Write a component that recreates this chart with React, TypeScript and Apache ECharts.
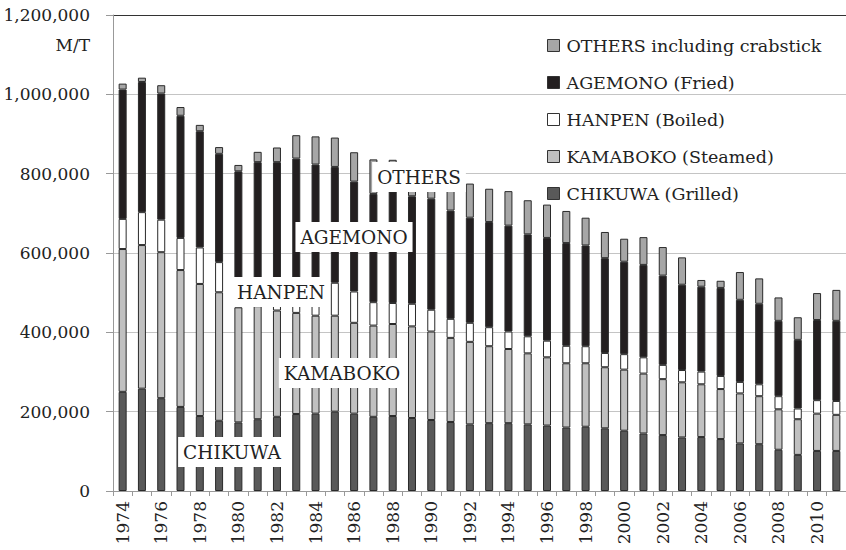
import React, { useEffect, useRef } from "react";
import * as echarts from "echarts";

const years = [
  "1974","1975","1976","1977","1978","1979","1980","1981","1982","1983",
  "1984","1985","1986","1987","1988","1989","1990","1991","1992","1993",
  "1994","1995","1996","1997","1998","1999","2000","2001","2002","2003",
  "2004","2005","2006","2007","2008","2009","2010","2011",
];

const chikuwa = [
  250000,258000,234000,212000,189000,177000,173000,181000,187000,194000,
  195000,200000,195000,187000,189000,184000,179000,174000,168000,171000,
  171000,168000,165000,160000,162000,158000,152000,145000,141000,135000,
  136000,131000,120000,118000,104000,91000,101000,101000,
];
const kamaboko = [
  360000,362000,368000,345000,333000,324000,290000,285000,268000,255000,
  247000,242000,229000,230000,232000,231000,223000,212000,208000,194000,
  187000,179000,172000,162000,160000,154000,154000,151000,141000,139000,
  133000,126000,126000,121000,102000,90000,94000,91000,
];
const hanpen = [
  76000,83000,82000,81000,92000,76000,67000,69000,80000,89000,
  88000,83000,79000,59000,53000,57000,55000,48000,48000,48000,
  44000,43000,42000,44000,43000,36000,39000,41000,36000,31000,
  32000,33000,29000,30000,33000,27000,34000,35000,
];
const agemono = [
  326000,328000,318000,308000,293000,273000,276000,294000,294000,300000,
  293000,292000,277000,273000,281000,271000,280000,273000,265000,265000,
  267000,257000,259000,259000,254000,239000,233000,233000,225000,215000,
  214000,222000,207000,203000,190000,173000,202000,202000,
];
const others = [
  15000,11000,21000,22000,16000,17000,16000,26000,37000,59000,
  71000,74000,74000,87000,80000,86000,92000,93000,86000,84000,
  87000,86000,84000,81000,70000,66000,58000,70000,72000,69000,
  17000,18000,70000,64000,59000,57000,68000,78000,
];

const yTicks = [0, 200000, 400000, 600000, 800000, 1000000, 1200000];

const seriesNames = [
  "CHIKUWA (Grilled)",
  "KAMABOKO (Steamed)",
  "HANPEN (Boiled)",
  "AGEMONO (Fried)",
  "OTHERS including crabstick",
];
const seriesData = [chikuwa, kamaboko, hanpen, agemono, others];
const seriesColors = ["#595959", "#c0c0c0", "#ffffff", "#231f20", "#a6a6a6"];

const annotations = [
  { text: "OTHERS", x: 419, y: 177 },
  { text: "AGEMONO", x: 354, y: 237 },
  { text: "HANPEN", x: 281, y: 292 },
  { text: "KAMABOKO", x: 342, y: 373 },
  { text: "CHIKUWA", x: 232, y: 452 },
];

const FONT = "DejaVu Serif";
const FS_AXIS = 17;
const FS_LEGEND = 17.5;
const FS_NOTE = 18.5;

export default function App() {
  const ref = useRef<HTMLDivElement>(null);

  useEffect(() => {
    if (!ref.current) return;
    const chart = echarts.init(ref.current, undefined, { renderer: "svg" });
    const fmt = (v: number) => v.toLocaleString("en-US");
    chart.setOption({
      animation: false,
      backgroundColor: "#ffffff",
      textStyle: { fontFamily: FONT },
      grid: { left: 113, right: -7, top: 15, bottom: 59, containLabel: false },
      legend: {
        left: 547,
        top: 34,
        padding: 0,
        orient: "vertical",
        icon: "rect",
        itemWidth: 12,
        itemHeight: 12,
        itemGap: 14,
        data: [...seriesNames].reverse(),
        textStyle: {
          fontFamily: FONT,
          fontSize: FS_LEGEND,
          color: "#222",
          lineHeight: 21,
          backgroundColor: "#ffffff",
          padding: [1, 2, 1, 2],
        },
        itemStyle: { borderColor: "#333", borderWidth: 1 },
      },
      xAxis: {
        type: "category",
        data: years,
        boundaryGap: true,
        axisLine: { lineStyle: { color: "#999", width: 1 } },
        axisTick: { show: true, length: 5, alignWithLabel: false, interval: 0, lineStyle: { color: "#999" } },
        axisLabel: {
          rotate: 90,
          interval: 1,
          margin: 10,
          fontFamily: FONT,
          fontSize: FS_AXIS,
          color: "#222",
        },
        splitLine: { show: false },
      },
      yAxis: {
        type: "value",
        min: yTicks[0],
        max: yTicks[yTicks.length - 1],
        interval: yTicks[1] - yTicks[0],
        axisLine: { show: true, lineStyle: { color: "#999", width: 1 } },
        axisTick: { show: true, length: 7, lineStyle: { color: "#999" } },
        axisLabel: {
          margin: 23,
          fontFamily: FONT,
          fontSize: FS_AXIS,
          color: "#222",
          formatter: (v: number) => fmt(v),
        },
        splitLine: {
          show: true,
          lineStyle: {
            color: ["#c4c4c4", "#c4c4c4", "#c4c4c4", "#c4c4c4", "#c4c4c4", "#c4c4c4", "#333333"],
            width: 1,
          },
        },
      },
      series: seriesNames.map((name, i) => ({
        name,
        type: "bar",
        stack: "total",
        data: seriesData[i],
        barWidth: 8,
        itemStyle: { color: seriesColors[i], borderColor: "#2a2a2a", borderWidth: 1 },
        emphasis: { disabled: true },
      })),
      graphic: [
        {
          type: "text",
          right: 756,
          top: 36,
          z: 100,
          style: { text: "M/T", fontFamily: FONT, fontSize: FS_AXIS, fill: "#222" },
        },
        ...annotations.map((a) => ({
          type: "text",
          x: a.x,
          y: a.y,
          z: 100,
          style: {
            text: a.text,
            fontFamily: FONT,
            fontSize: FS_NOTE,
            fill: "#222",
            align: "center",
            verticalAlign: "middle",
            backgroundColor: "#ffffff",
            padding: [6, 5, 5, 5],
          },
        })),
      ],
    });
    return () => chart.dispose();
  }, []);

  return (
    <div
      ref={ref}
      style={{ position: "fixed", left: 0, top: 0, width: 846, height: 550, background: "#fff" }}
    />
  );
}
